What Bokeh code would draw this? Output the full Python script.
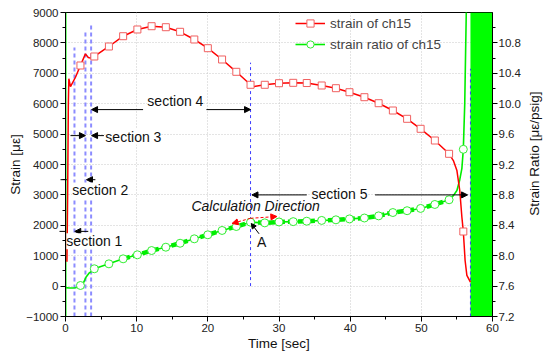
import math
import numpy as np
from bokeh.plotting import figure
from bokeh.layouts import row
from bokeh.models import (Range1d, LinearAxis, Arrow, NormalHead, Label, Legend,
                          LegendItem, SingleIntervalTicker, PrintfTickFormatter)
from bokeh.embed import file_html
from bokeh.resources import INLINE

FONT = "Liberation Sans"

# ---------------- data ----------------
strain_t = [0.2, 0.3, 0.4, 0.47, 0.7, 1.4, 2.1, 2.8, 3.2, 3.5, 4.05, 6.1, 8.1, 10.1,
            12.1, 14.1, 16.1, 18.1, 20.0, 22.0, 24.0, 26.0, 26.3, 28.0, 30.0, 32.0,
            33.9, 36.0, 38.0, 39.9, 42.0, 44.0, 46.0, 48.0, 49.9, 51.9, 53.9, 54.5,
            55.0, 55.4, 55.7, 55.9, 56.15, 56.4, 56.9]
strain_v = [800, 3000, 6000, 6820, 6560, 6870, 7257, 7640, 7520, 7500, 7553, 7882, 8220,
            8441, 8549, 8516, 8365, 8112, 7826, 7454, 7049, 6622, 6560, 6622, 6674, 6687,
            6680, 6599, 6510, 6378, 6214, 6016, 5776, 5503, 5174, 4789, 4352, 4130,
            3800, 3145, 2266, 1796, 842, 350, 128]

mark_t = [2.1, 4.05, 6.1, 8.1, 10.1, 12.1, 14.1, 16.1, 18.1, 20.0, 22.0, 24.0, 26.0,
          28.0, 30.0, 32.0, 33.9, 36.0, 38.0, 39.9, 42.0, 44.0, 46.0, 48.0, 49.9, 51.9,
          53.9, 55.9]
strain_mark = [7257, 7553, 7882, 8220, 8441, 8549, 8516, 8365, 8112, 7826, 7454, 7049,
               6622, 6622, 6674, 6687, 6680, 6599, 6510, 6378, 6214, 6016, 5776, 5503,
               5174, 4789, 4352, 1796]

ratio_t = [0.05, 0.5, 1.0, 1.4, 1.8, 2.1, 2.5, 2.9, 3.3, 3.6, 4.05, 6.1, 8.1, 10.1,
           12.1, 14.1, 16.1, 18.1, 20.0, 22.0, 24.0, 26.0, 28.0, 30.0, 32.0, 33.9, 36.0,
           38.0, 39.9, 42.0, 44.0, 46.0, 48.0, 49.9, 51.9, 53.9, 54.5, 55.0, 55.4, 55.7,
           55.9, 56.1, 56.35]
ratio_v = [7.58, 7.575, 7.575, 7.578, 7.59, 7.608, 7.64, 7.72, 7.77, 7.79, 7.828, 7.893,
           7.959, 8.012, 8.068, 8.112, 8.164, 8.222, 8.275, 8.332, 8.384, 8.441, 8.432,
           8.444, 8.448, 8.454, 8.464, 8.472, 8.484, 8.496, 8.524, 8.568, 8.592, 8.622,
           8.674, 8.736, 8.79, 8.858, 9.0, 9.15, 9.4, 10.0, 11.4]
ratio_mark = [7.608, 7.828, 7.893, 7.959, 8.012, 8.068, 8.112, 8.164, 8.222, 8.275,
              8.332, 8.384, 8.441, 8.432, 8.444, 8.448, 8.454, 8.464, 8.472, 8.484,
              8.496, 8.524, 8.568, 8.592, 8.622, 8.674, 8.736, 9.4]
ratio_thick_span = [8.0, 54.2]

diverge_t = [56.9, 60.0]
spike_t = [0.0]

bound_t = [1.26, 2.8, 3.6]
bound_bottom = [-1000, -1000, -1000]
bound_top = [7850, 8400, 8650]
bound2_t = [26.0, 56.9]
bound2_bottom = [0, -1000]
bound2_top = [7350, 7150]

sec_text = ["section 1", "section 2", "section 3", "section 4", "section 5"]
sec_x = [0.12, 0.94, 5.6, 11.5, 34.55]
sec_y = [1477, 3145, 4920, 6105, 3046]
arr_x0 = [-1.9, 3.2, -1.4, 4.2, 0.7, 5.4, 10.9, 19.8, 33.9, 43.5]
arr_x1 = [0.0, 1.3, 0.14, 2.95, 2.8, 3.66, 3.66, 26.0, 26.2, 56.5]
arr_y = [1800, 1800, 3500, 3500, 4950, 4950, 5806, 5806, 3000, 3000]

# ---------------- figure ----------------
p = figure(frame_width=427, frame_height=304, output_backend="svg", toolbar_location=None,
           x_range=Range1d(0, 60), y_range=Range1d(-1000, 9000),
           min_border_left=65, min_border_right=30, min_border_top=12,
           min_border_bottom=35, background_fill_color="white",
           border_fill_color="white", outline_line_color="black",
           outline_line_width=1, outline_line_alpha=1)
p.extra_y_ranges = {"ratio": Range1d(7.2, 11.2)}

p.xaxis.ticker = SingleIntervalTicker(interval=10, num_minor_ticks=2)
p.yaxis.ticker = SingleIntervalTicker(interval=1000, num_minor_ticks=2)
p.xaxis.axis_label = "Time [sec]"
p.yaxis.axis_label = "Strain [με]"

rax = LinearAxis(y_range_name="ratio",
                 ticker=SingleIntervalTicker(interval=0.4, num_minor_ticks=2),
                 formatter=PrintfTickFormatter(format="%.1f"))
p.add_layout(rax, "right")

for ax in [p.xaxis[0], p.yaxis[0], rax]:
    ax.axis_line_color = "black"
    ax.major_tick_line_color = "black"
    ax.minor_tick_line_color = "black"
    ax.major_tick_out = 5
    ax.major_tick_in = 0
    ax.minor_tick_out = 3
    ax.minor_tick_in = 0
    ax.major_label_text_font = FONT
    ax.major_label_text_font_size = "11.5px"
    ax.major_label_text_color = "#222222"
    ax.axis_label_text_font = FONT
    ax.axis_label_text_font_size = "13.5px"
    ax.axis_label_text_font_style = "normal"
    ax.axis_label_text_color = "#111111"
    ax.major_label_standoff = 2
    ax.axis_label_standoff = 1
p.yaxis[0].axis_label_standoff = 0
rax.major_label_standoff = 1

p.xgrid.ticker = SingleIntervalTicker(interval=10)
p.ygrid.ticker = SingleIntervalTicker(interval=1000)
for g in [p.xgrid[0], p.ygrid[0]]:
    g.grid_line_color = "#c8c8c8"
    g.grid_line_dash = "1 2"
    g.grid_line_width = 1

p.quad(left=[diverge_t[0]], right=[diverge_t[1]], bottom=[-1000], top=[9000],
       fill_color="#00ff00", line_color=None)
p.segment(x0=spike_t, y0=[-1000], x1=spike_t, y1=[9000], line_color="#00ff00", line_width=2)

p.segment(x0=bound_t, y0=bound_bottom, x1=bound_t, y1=bound_top,
          line_color="#8c8cff", line_width=2, line_dash="4 3")
p.segment(x0=bound2_t, y0=bound2_bottom, x1=bound2_t, y1=bound2_top,
          line_color="#3c3cff", line_width=1, line_dash="3 3")

rt = np.array(ratio_t)
rv = np.array(ratio_v)
g_line = p.line(rt, rv, y_range_name="ratio", line_color="#00ee00", line_width=1.6)
m = (rt >= ratio_thick_span[0]) & (rt <= ratio_thick_span[1])
p.line(rt[m], rv[m], y_range_name="ratio", line_color="#00ee00", line_width=4.5,
       line_dash="7 3")
g_mark = p.scatter(mark_t, ratio_mark, y_range_name="ratio", marker="circle", size=8,
                   fill_color="white", line_color="#33ee33", line_width=1)

r_line = p.line(strain_t, strain_v, line_color="#ff0000", line_width=1.5)
r_mark = p.scatter(mark_t, strain_mark, marker="square", size=7, fill_color="white",
                   line_color="#f06060", line_width=1)

for x0, x1, y in zip(arr_x0, arr_x1, arr_y):
    p.add_layout(Arrow(x_start=x0, y_start=y, x_end=x1, y_end=y, line_color="black",
                       line_width=1, end=NormalHead(size=6, fill_color="black",
                                                    line_color="black")))

for t, x, y in zip(sec_text, sec_x, sec_y):
    p.add_layout(Label(x=x, y=y, text=t, text_font=FONT, text_font_size="14px",
                       text_baseline="middle", text_align="left", text_color="#111111",
                       background_fill_color="white", background_fill_alpha=1))

p.add_layout(Label(x=17.7, y=2620, text="Calculation Direction", text_font=FONT,
                   text_font_size="14px", text_font_style="italic",
                   text_baseline="middle", text_align="left", text_color="#111111"))
p.add_layout(Arrow(x_start=26.0, y_start=2230, x_end=23.4, y_end=2060, line_color="red",
                   line_width=1, line_dash="3 2",
                   end=NormalHead(size=6, fill_color="red", line_color="red")))
p.add_layout(Arrow(x_start=26.0, y_start=2230, x_end=29.7, y_end=2290, line_color="red",
                   line_width=1, line_dash="3 2",
                   end=NormalHead(size=6, fill_color="red", line_color="red")))
p.add_layout(Arrow(x_start=27.2, y_start=1720, x_end=26.1, y_end=2060, line_color="black",
                   line_width=1, end=NormalHead(size=5, fill_color="black",
                                                line_color="black")))
p.add_layout(Label(x=26.9, y=1440, text="A", text_font=FONT, text_font_size="14px",
                   text_baseline="middle", text_align="left", text_color="#111111"))

legend = Legend(items=[LegendItem(label="strain of ch15", renderers=[r_line, r_mark]),
                       LegendItem(label="strain ratio of ch15", renderers=[g_line, g_mark])],
                location=(230, 263), padding=0, margin=0, spacing=3, glyph_height=18,
                glyph_width=30, label_height=18, label_standoff=5,
                label_text_font=FONT, label_text_font_size="13.5px",
                border_line_color=None, background_fill_alpha=0)
p.add_layout(legend)

# right-hand axis title (reads bottom to top), drawn in a narrow side panel
side = figure(width=21, height=351, output_backend="svg", toolbar_location=None,
              x_range=Range1d(0, 1), y_range=Range1d(0, 351), min_border=0,
              min_border_left=0, min_border_right=0, min_border_top=0,
              min_border_bottom=0, outline_line_color=None,
              background_fill_color="white", border_fill_color="white")
side.xaxis.visible = False
side.yaxis.visible = False
side.grid.visible = False
side.add_layout(Label(x=0.5, y=187, text="Strain Ratio [με/psig]", angle=math.pi / 2,
                      text_font=FONT, text_font_size="13.5px", text_baseline="middle",
                      text_align="center", text_color="#111111"))

layout = row(p, side, spacing=0)
open("out.html", "w").write(file_html(layout, INLINE))
